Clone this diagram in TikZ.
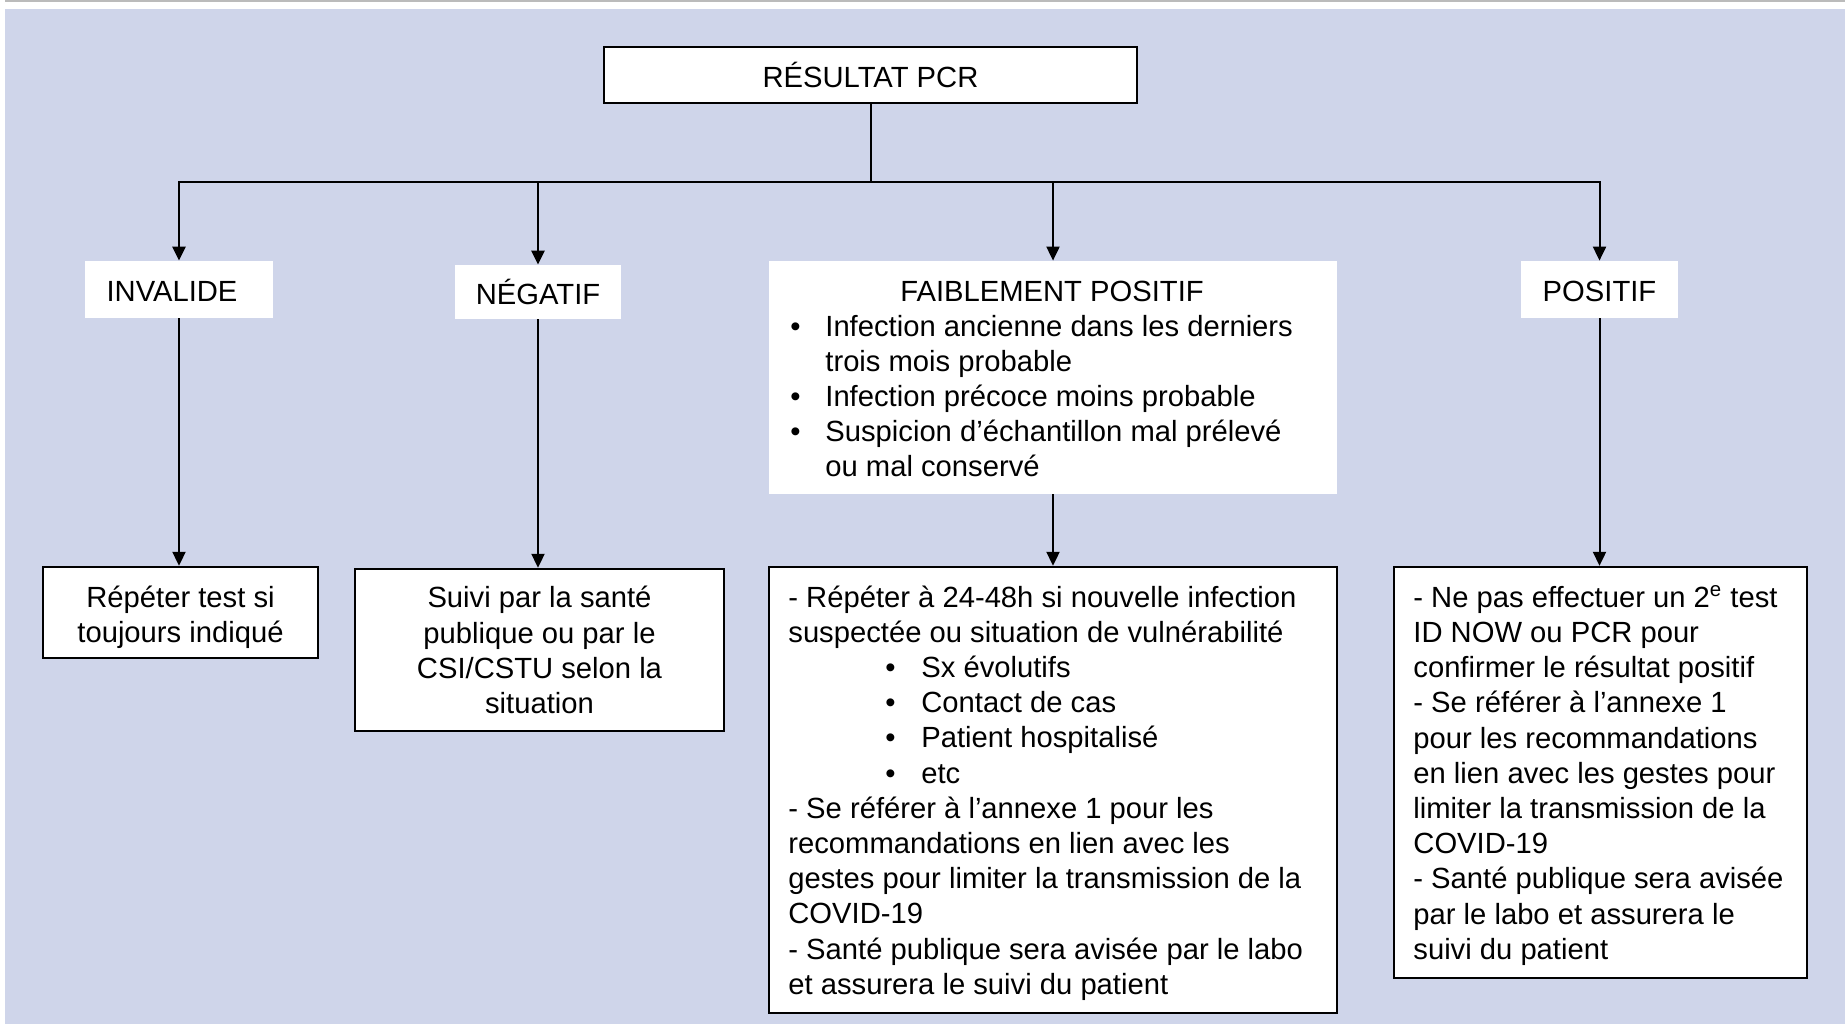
\documentclass[tikz,border=0pt]{standalone}
\usepackage{fontspec}
\setmainfont{Liberation Sans}
\usetikzlibrary{arrows.meta}
\definecolor{bgblue}{RGB}{207,213,234}
\definecolor{topgray}{RGB}{187,187,187}
\newcommand{\fs}{\fontsize{14.6pt}{17.6pt}\selectfont}
\newcommand{\mybul}{\makebox[17.5pt][l]{•}}
\newcommand{\myind}{\hspace*{17.5pt}}
\newcommand{\mysub}{\hspace*{48.5pt}\makebox[18pt][l]{•}}
\begin{document}
\begin{tikzpicture}[x=0.5pt,y=-0.5pt,
  box/.style={draw=black, line width=1.2pt, fill=white, inner sep=0pt, font=\fs, align=center},
  lbl/.style={fill=white, inner sep=0pt, font=\fs, align=center},
  txt/.style={inner sep=0pt, font=\fs},
  conn/.style={line width=1pt},
  arr/.style={conn, -{Triangle[length=7pt,width=6.5pt]}}]
\useasboundingbox (0,0) rectangle (1845,1024);
\fill[white] (0,0) rectangle (1845,1024);
\fill[topgray] (5,0) rectangle (1845,1.6);
\fill[bgblue] (5,9) rectangle (1845,1024);

% top box
\node[box, minimum width=266.5pt, minimum height=28pt] (top) at (870.5,75) {RÉSULTAT PCR};
\coordinate (jn) at (870.5,182);

% label boxes
\node[lbl, minimum width=94pt, minimum height=28.5pt] (labInv) at (179,289.5) {};
\node[txt] (tInv) at (172,291.5) {INVALIDE};
\node[lbl, minimum width=83pt, minimum height=27pt] (labNeg) at (538,292) {NÉGATIF};
\node[lbl, minimum width=284pt, minimum height=116.5pt] (labFaib) at (1053,377.5) {};
\node[txt] (tFaibT) at (1052,291) {FAIBLEMENT POSITIF};
\node[txt, anchor=west, align=left] (tFaibL) at (790,396) {%
\mybul Infection ancienne dans les derniers\\
\myind trois mois probable\\
\mybul Infection précoce moins probable\\
\mybul Suspicion d’échantillon mal prélevé\\
\myind ou mal conservé};
\node[lbl, minimum width=78.5pt, minimum height=28.5pt] (labPos) at (1599.5,289.5) {};
\node[txt] (tPos) at (1599.5,291.5) {POSITIF};

% result boxes
\node[box, minimum width=137.5pt, minimum height=45.5pt] (resInv) at (180.5,612.5) {};
\node[txt, align=center] (tResInv) at (180.5,617) {Répéter test si\\toujours indiqué};
\node[box, minimum width=184.5pt, minimum height=81pt] (resNeg) at (539.5,650) {Suivi par la santé\\publique ou par le\\CSI/CSTU selon la\\situation};
\node[box, minimum width=284pt, minimum height=223pt] (resFaib) at (1053,790) {};
\node[txt, anchor=west, align=left] (tResFaib) at (788,793) {%
- Répéter à 24-48h si nouvelle infection\\
suspectée ou situation de vulnérabilité\\
\mysub Sx évolutifs\\
\mysub Contact de cas\\
\mysub Patient hospitalisé\\
\mysub etc\\
- Se référer à l’annexe 1 pour les\\
recommandations en lien avec les\\
gestes pour limiter la transmission de la\\
COVID-19\\
- Santé publique sera avisée par le labo\\
et assurera le suivi du patient};
\node[box, minimum width=206.5pt, minimum height=205.5pt] (resPos) at (1600.5,772.5) {};
\node[txt, anchor=west, align=left] (tResPos) at (1413,775.5) {%
- Ne pas effectuer un 2\textsuperscript{e} test\\
ID NOW ou PCR pour\\
confirmer le résultat positif\\
- Se référer à l’annexe 1\\
pour les recommandations\\
en lien avec les gestes pour\\
limiter la transmission de la\\
COVID-19\\
- Santé publique sera avisée\\
par le labo et assurera le\\
suivi du patient};

% connectors
\draw[conn] (top.south) -- (jn);
\draw[arr, line width=1.3pt] (jn) -| (labInv.north);
\draw[arr, line width=1.3pt] (jn) -| (labNeg.north);
\draw[arr] (jn) -| (labFaib.north);
\draw[arr] (jn) -| (labPos.north);
\draw[arr] (labInv.south) -- (labInv.south |- resInv.north);
\draw[arr] (labNeg.south) -- (labNeg.south |- resNeg.north);
\draw[arr] (labFaib.south) -- (labFaib.south |- resFaib.north);
\draw[arr] (labPos.south) -- (labPos.south |- resPos.north);
\end{tikzpicture}
\end{document}
